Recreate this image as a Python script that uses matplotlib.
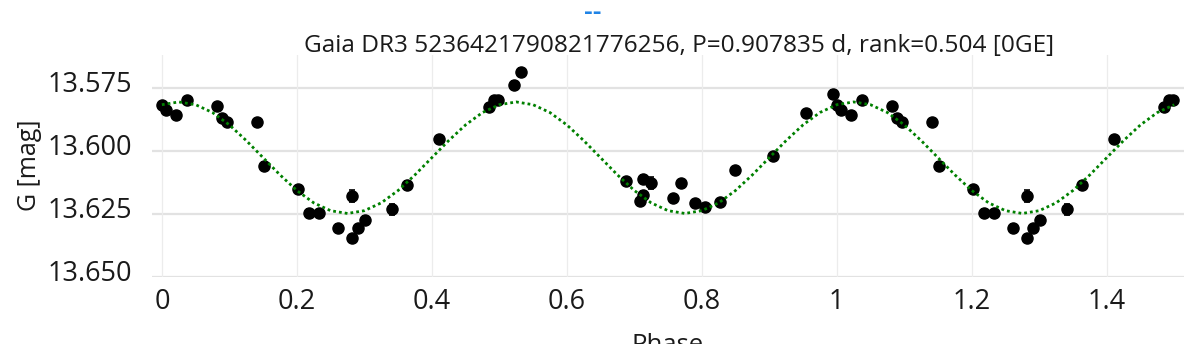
"""
Phase-folded Gaia G light curve with the harmonic model overplotted.
"""

import matplotlib
matplotlib.use("Agg")
import matplotlib.pyplot as plt
from matplotlib.transforms import ScaledTranslation

# Observations folded on P=0.907835 d (first cycle, phase 0..1)
phase = [0.000, 0.0064, 0.0212, 0.037, 0.0824, 0.0893, 0.0963, 0.1407, 0.1516, 0.2019,
         0.2178, 0.2335, 0.2607, 0.2819, 0.2819, 0.2913, 0.3012, 0.3416, 0.3630, 0.4108,
         0.4853, 0.4923, 0.4987, 0.5219, 0.5319, 0.6874, 0.7126, 0.7244, 0.7135, 0.7086,
         0.7570, 0.7698, 0.7905, 0.8053, 0.8271, 0.8498, 0.9061, 0.9545, 0.9950]
mag = [13.5821, 13.5838, 13.5858, 13.5801, 13.5825, 13.5872, 13.5885, 13.5887, 13.6059, 13.6154,
       13.6246, 13.6248, 13.6305, 13.6181, 13.6348, 13.6308, 13.6273, 13.6233, 13.6137, 13.5953,
       13.5829, 13.5801, 13.5799, 13.5740, 13.5688, 13.6119, 13.6111, 13.6130, 13.6174, 13.6199,
       13.6188, 13.6128, 13.6207, 13.6222, 13.6203, 13.6076, 13.6023, 13.5851, 13.5775]
mag_err = [0.0012, 0.0012, 0.0012, 0.0013, 0.0013, 0.0014, 0.0013, 0.0014, 0.0012, 0.0012,
           0.0013, 0.0012, 0.0015, 0.0024, 0.0014, 0.0014, 0.0013, 0.0022, 0.0015, 0.0012,
           0.0012, 0.0013, 0.0012, 0.0016, 0.0016, 0.0012, 0.0016, 0.0024, 0.0014, 0.0013,
           0.0014, 0.0013, 0.0012, 0.0012, 0.0012, 0.0013, 0.0012, 0.0012, 0.0014]

# Same observations repeated for phase 1..1.5
phase_rep = [1.000, 1.0064, 1.0212, 1.037, 1.0824, 1.0893, 1.0963, 1.1407, 1.1516, 1.2019,
             1.2178, 1.2335, 1.2607, 1.2819, 1.2819, 1.2913, 1.3012, 1.3416, 1.3630, 1.4108,
             1.4853, 1.4923, 1.4987]
mag_rep = [13.5821, 13.5838, 13.5858, 13.5801, 13.5825, 13.5872, 13.5885, 13.5887, 13.6059, 13.6154,
           13.6246, 13.6248, 13.6305, 13.6181, 13.6348, 13.6308, 13.6273, 13.6233, 13.6137, 13.5953,
           13.5829, 13.5801, 13.5799]
mag_err_rep = [0.0012, 0.0012, 0.0012, 0.0013, 0.0013, 0.0014, 0.0013, 0.0014, 0.0012, 0.0012,
               0.0013, 0.0012, 0.0015, 0.0024, 0.0014, 0.0014, 0.0013, 0.0022, 0.0015, 0.0012,
               0.0012, 0.0013, 0.0012]

# Model curve, every 0.025 in phase
model_phase = [i * 0.025 for i in range(61)]
model_mag = [13.5818, 13.5807, 13.5818, 13.5849, 13.5898, 13.5960, 13.6028, 13.6096, 13.6158, 13.6207,
             13.6238, 13.6249, 13.6238, 13.6207, 13.6158, 13.6096, 13.6028, 13.5960, 13.5898, 13.5849,
             13.5818, 13.5807, 13.5818, 13.5849, 13.5898, 13.5960, 13.6028, 13.6096, 13.6158, 13.6207,
             13.6238, 13.6249, 13.6238, 13.6207, 13.6158, 13.6096, 13.6028, 13.5960, 13.5898, 13.5849,
             13.5818, 13.5807, 13.5818, 13.5849, 13.5898, 13.5960, 13.6028, 13.6096, 13.6158, 13.6207,
             13.6238, 13.6249, 13.6238, 13.6207, 13.6158, 13.6096, 13.6028, 13.5960, 13.5898, 13.5849,
             13.5818]

yticks = [13.575, 13.600, 13.625, 13.650]
ytick_labels = ["13.575", "13.600", "13.625", "13.650"]
xticks = [0, 0.2, 0.4, 0.6, 0.8, 1.0, 1.2, 1.4]
xtick_labels = ["0", "0.2", "0.4", "0.6", "0.8", "1", "1.2", "1.4"]

TITLE = "Gaia DR3 5236421790821776256, P=0.907835 d, rank=0.504 [0GE]"


def main():
    plt.rcParams["font.family"] = ["Open Sans", "DejaVu Sans"]
    text_color = "#1a1a1a"

    W, H = 1196, 344
    fig = plt.figure(figsize=(W / 100, H / 100), dpi=100)
    ax = fig.add_axes([152.3 / W, 1 - 277.3 / H, (1184 - 152.3) / W, (277.3 - 55) / H])

    # data points with small error bars
    for ph, m, e in [(phase, mag, mag_err), (phase_rep, mag_rep, mag_err_rep)]:
        ax.errorbar(ph, m, yerr=e, fmt="o", ms=8, color="black", mec="black",
                    ecolor="black", elinewidth=1.2, capsize=2.5, capthick=1.2, zorder=3)

    # model
    ax.plot(model_phase, model_mag, color="green", lw=2.0, linestyle=(0, (1, 1.1)), zorder=4)

    ax.set_xlim(-0.0142, 1.5145)
    ax.set_ylim(13.6502, 13.5621)

    ax.set_xticks(xticks)
    ax.set_xticklabels(xtick_labels)
    ax.set_yticks(yticks)
    ax.set_yticklabels(ytick_labels)

    ax.tick_params(axis="both", length=0, labelsize=19.5, labelcolor=text_color)
    ax.tick_params(axis="x", pad=7.8)
    ax.tick_params(axis="y", pad=14.5)
    for lbl in ax.get_yticklabels():
        lbl.set_transform(lbl.get_transform() + ScaledTranslation(0, 6 / 100, fig.dpi_scale_trans))

    ax.grid(False)
    for y in yticks:
        ax.axhline(y, color="#e2e2e2", lw=1.6, zorder=0)
    for x in xticks:
        ax.axvline(x, color="#ececec", lw=0.9, zorder=0)
    for s in ax.spines.values():
        s.set_visible(False)

    fig.text(679.5 / W, 1 - 51.7 / H, TITLE, ha="center", va="baseline",
             fontsize=17.6, color=text_color)
    fig.text(593 / W, 1 - 20 / H, "--", ha="center", va="baseline",
             fontsize=19.5, color="#1f83e6", fontweight=600)
    fig.text(29.5 / W, 1 - 165 / H, "G [mag]", ha="center", va="center", rotation=90,
             fontsize=18, color=text_color)
    fig.text(668 / W, 1 - 351.5 / H, "Phase", ha="center", va="baseline",
             fontsize=18.5, color=text_color)

    fig.savefig("out.png", dpi=100)


if __name__ == "__main__":
    main()
